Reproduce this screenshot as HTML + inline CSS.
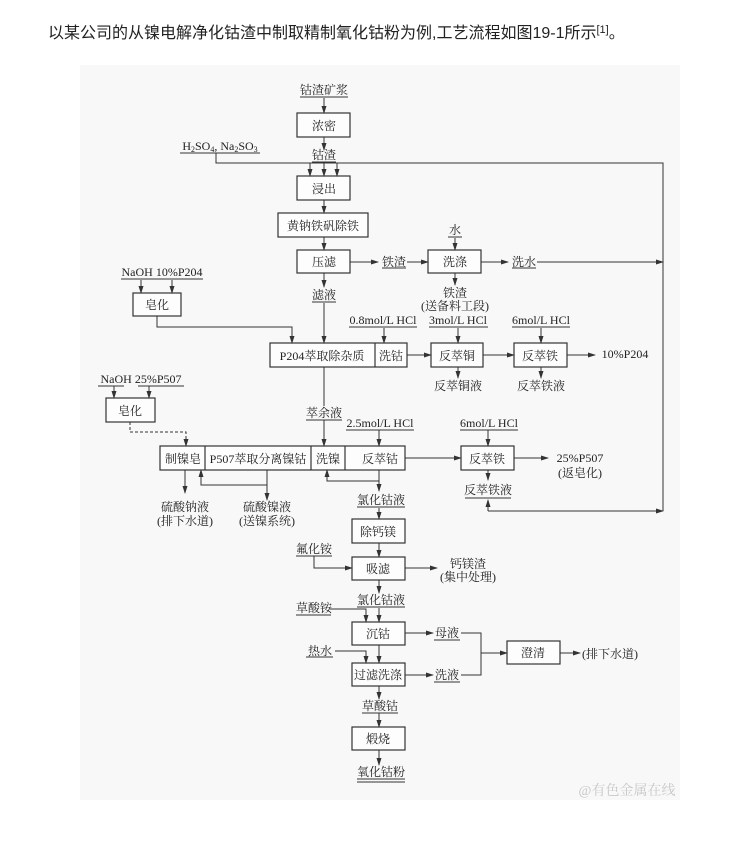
<!DOCTYPE html>
<html><head><meta charset="utf-8"><style>
body{margin:0;background:#fff;width:730px;height:857px;overflow:hidden}
svg{position:absolute;left:0;top:0}
text{font-family:"Liberation Serif","Noto Serif CJK SC",serif;font-size:12px;fill:#222}
.t{font-family:"Liberation Sans","Noto Sans CJK SC",sans-serif;font-size:16px}
</style></head><body>
<svg width="730" height="857" viewBox="0 0 730 857">
<defs><marker id="a" markerWidth="8" markerHeight="6" refX="7" refY="3" orient="auto" markerUnits="userSpaceOnUse"><path d="M0,0.5 L8,3 L0,5.5z" fill="#333"/></marker></defs>
<text x="48" y="38" class="t">以某公司的从镍电解净化钴渣中制取精制氧化钴粉为例,工艺流程如图19-1所示<tspan font-size="11" dy="-5">[1]</tspan><tspan dy="5">。</tspan></text>
<rect x="80" y="65" width="600" height="735" fill="#f8f8f8"/>
<g stroke="#333" stroke-width="1.2" fill="#fdfdfd">
<rect x="297" y="113" width="53" height="24"/>
<rect x="297" y="176" width="53" height="24"/>
<rect x="278" y="213" width="90" height="24"/>
<rect x="297" y="250" width="53" height="23"/>
<rect x="428" y="250" width="53" height="23"/>
<rect x="133" y="293" width="48" height="23"/>
<rect x="270" y="343" width="137" height="24"/><line x1="375" y1="343" x2="375" y2="367"/>
<rect x="431" y="343" width="52" height="24"/>
<rect x="514" y="343" width="53" height="24"/>
<rect x="106" y="398" width="49" height="24"/>
<rect x="160" y="446" width="245" height="24"/><line x1="205" y1="446" x2="205" y2="470"/><line x1="311" y1="446" x2="311" y2="470"/><line x1="345" y1="446" x2="345" y2="470"/>
<rect x="461" y="446" width="53" height="24"/>
<rect x="352" y="519" width="53" height="24"/>
<rect x="352" y="557" width="53" height="23"/>
<rect x="352" y="622" width="53" height="23"/>
<rect x="352" y="663" width="53" height="23"/>
<rect x="507" y="641" width="53" height="23"/>
<rect x="352" y="727" width="53" height="23"/>
</g>
<g stroke="#333" stroke-width="1" fill="none">
<path d="M324 98V113" marker-end="url(#a)"/>
<path d="M324 137V150" marker-end="url(#a)"/>
<path d="M216 153V163H663V511"/>
<path d="M310 163V176" marker-end="url(#a)"/><path d="M324 163V176" marker-end="url(#a)"/><path d="M337 163V176" marker-end="url(#a)"/>
<path d="M324 200V213" marker-end="url(#a)"/>
<path d="M324 237V250" marker-end="url(#a)"/>
<path d="M350 262H378" marker-end="url(#a)"/>
<path d="M407 262H428" marker-end="url(#a)"/>
<path d="M455 238V250" marker-end="url(#a)"/>
<path d="M481 262H508" marker-end="url(#a)"/>
<path d="M537 262H663" marker-end="url(#a)"/>
<path d="M455 273V285" marker-end="url(#a)"/>
<path d="M324 273V287" marker-end="url(#a)"/>
<path d="M324 303V343" marker-end="url(#a)"/>
<path d="M141 280V293" marker-end="url(#a)"/><path d="M172 280V293" marker-end="url(#a)"/>
<path d="M157 316V327H292V343" marker-end="url(#a)"/>
<path d="M384 328V343" marker-end="url(#a)"/>
<path d="M458 328V343" marker-end="url(#a)"/>
<path d="M541 328V343" marker-end="url(#a)"/>
<path d="M407 355H431" marker-end="url(#a)"/>
<path d="M483 355H514" marker-end="url(#a)"/>
<path d="M567 355H595" marker-end="url(#a)"/>
<path d="M458 367V378" marker-end="url(#a)"/>
<path d="M541 367V378" marker-end="url(#a)"/>
<path d="M324 367V406"/>
<path d="M324 420V446" marker-end="url(#a)"/>
<path d="M114 386V398" marker-end="url(#a)"/><path d="M149 386V398" marker-end="url(#a)"/>
<path d="M130 422V432H186V446" stroke-dasharray="3,2" marker-end="url(#a)"/>
<path d="M379 430V446" marker-end="url(#a)"/>
<path d="M488 430V446" marker-end="url(#a)"/>
<path d="M405 458H461" marker-end="url(#a)"/>
<path d="M514 458H548" marker-end="url(#a)"/>
<path d="M488 470V480" marker-end="url(#a)"/>
<path d="M488 511V500" marker-end="url(#a)"/><path d="M488 511H663" marker-end="url(#a)"/>
<path d="M185 470V493" marker-end="url(#a)"/>
<path d="M267 470V500" marker-end="url(#a)"/>
<path d="M267 485H201V470" marker-end="url(#a)"/>
<path d="M379 470V491" marker-end="url(#a)"/>
<path d="M379 481H327V470" marker-end="url(#a)"/>
<path d="M379 508V519" marker-end="url(#a)"/>
<path d="M379 543V557" marker-end="url(#a)"/>
<path d="M314 556V568H352" marker-end="url(#a)"/>
<path d="M405 568H437" marker-end="url(#a)"/>
<path d="M379 580V593" marker-end="url(#a)"/>
<path d="M379 608V622" marker-end="url(#a)"/>
<path d="M330 609H366V622" marker-end="url(#a)"/>
<path d="M405 633H433" marker-end="url(#a)"/>
<path d="M379 645V663" marker-end="url(#a)"/>
<path d="M335 651H366V663" marker-end="url(#a)"/>
<path d="M405 675H433" marker-end="url(#a)"/>
<path d="M461 633H481V675H461"/>
<path d="M481 653H507" marker-end="url(#a)"/>
<path d="M560 653H580" marker-end="url(#a)"/>
<path d="M379 686V699" marker-end="url(#a)"/>
<path d="M379 713V727" marker-end="url(#a)"/>
<path d="M379 750V765" marker-end="url(#a)"/>
</g>
<g stroke="#333" stroke-width="1">
<line x1="300" y1="97" x2="348" y2="97"/>
<line x1="180" y1="153" x2="260" y2="153"/>
<line x1="312" y1="162" x2="336" y2="162"/>
<line x1="448" y1="237" x2="462" y2="237"/>
<line x1="382" y1="268" x2="406" y2="268"/>
<line x1="512" y1="268" x2="536" y2="268"/>
<line x1="312" y1="302" x2="336" y2="302"/>
<line x1="121" y1="279" x2="160" y2="279"/><line x1="157" y1="279" x2="203" y2="279"/>
<line x1="349" y1="327" x2="417" y2="327"/>
<line x1="429" y1="327" x2="488" y2="327"/>
<line x1="512" y1="327" x2="570" y2="327"/>
<line x1="98" y1="386" x2="124" y2="386"/><line x1="138" y1="386" x2="184" y2="386"/>
<line x1="306" y1="420" x2="342" y2="420"/>
<line x1="346" y1="430" x2="414" y2="430"/>
<line x1="460" y1="430" x2="518" y2="430"/>
<line x1="465" y1="498" x2="511" y2="498"/>
<line x1="357" y1="507" x2="405" y2="507"/>
<line x1="296" y1="556" x2="332" y2="556"/>
<line x1="357" y1="607" x2="405" y2="607"/>
<line x1="296" y1="615" x2="331" y2="615"/>
<line x1="306" y1="657" x2="333" y2="657"/>
<line x1="434" y1="640" x2="460" y2="640"/>
<line x1="434" y1="682" x2="460" y2="682"/>
<line x1="362" y1="713" x2="398" y2="713"/>
<line x1="357" y1="779" x2="405" y2="779"/><line x1="357" y1="782" x2="405" y2="782"/>
</g>
<g text-anchor="middle">
<text x="324" y="94">钴渣矿浆</text>
<text x="324" y="130">浓密</text>
<text x="220" y="150">H<tspan font-size="8" dy="2">2</tspan><tspan dy="-2">SO</tspan><tspan font-size="8" dy="2">4</tspan><tspan dy="-2">, Na</tspan><tspan font-size="8" dy="2">2</tspan><tspan dy="-2">SO</tspan><tspan font-size="8" dy="2">3</tspan></text>
<text x="324" y="159">钴渣</text>
<text x="324" y="193">浸出</text>
<text x="323" y="230">黄钠铁矾除铁</text>
<text x="324" y="266">压滤</text>
<text x="394" y="266">铁渣</text>
<text x="455" y="266">洗涤</text>
<text x="455" y="234">水</text>
<text x="524" y="266">洗水</text>
<text x="455" y="297">铁渣</text>
<text x="455" y="310">(送备料工段)</text>
<text x="324" y="299">滤液</text>
<text x="162" y="276">NaOH  10%P204</text>
<text x="157" y="309">皂化</text>
<text x="322" y="360">P204萃取除杂质</text>
<text x="391" y="360">洗钴</text>
<text x="383" y="324">0.8mol/L HCl</text>
<text x="458" y="324">3mol/L HCl</text>
<text x="541" y="324">6mol/L HCl</text>
<text x="457" y="360">反萃铜</text>
<text x="540" y="360">反萃铁</text>
<text x="625" y="358">10%P204</text>
<text x="458" y="390">反萃铜液</text>
<text x="541" y="390">反萃铁液</text>
<text x="141" y="383">NaOH  25%P507</text>
<text x="130" y="415">皂化</text>
<text x="324" y="417">萃余液</text>
<text x="380" y="427">2.5mol/L HCl</text>
<text x="489" y="427">6mol/L HCl</text>
<text x="183" y="463">制镍皂</text>
<text x="258" y="463">P507萃取分离镍钴</text>
<text x="328" y="463">洗镍</text>
<text x="380" y="463">反萃钴</text>
<text x="487" y="463">反萃铁</text>
<text x="580" y="462">25%P507</text>
<text x="580" y="477">(返皂化)</text>
<text x="488" y="494">反萃铁液</text>
<text x="185" y="511">硫酸钠液</text>
<text x="185" y="525">(排下水道)</text>
<text x="267" y="511">硫酸镍液</text>
<text x="267" y="525">(送镍系统)</text>
<text x="381" y="504">氯化钴液</text>
<text x="378" y="536">除钙镁</text>
<text x="314" y="553">氟化铵</text>
<text x="378" y="573">吸滤</text>
<text x="468" y="568">钙镁渣</text>
<text x="468" y="581">(集中处理)</text>
<text x="381" y="604">氯化钴液</text>
<text x="314" y="612">草酸铵</text>
<text x="378" y="638">沉钴</text>
<text x="447" y="637">母液</text>
<text x="320" y="655">热水</text>
<text x="378" y="679">过滤洗涤</text>
<text x="447" y="679">洗液</text>
<text x="533" y="657">澄清</text>
<text x="582" y="658" text-anchor="start">(排下水道)</text>
<text x="380" y="710">草酸钴</text>
<text x="378" y="743">煅烧</text>
<text x="381" y="776">氧化钴粉</text>
<text x="627" y="795" style="fill:#c8c8c8;font-size:14px">@有色金属在线</text>
</g>
</svg>
</body></html>
